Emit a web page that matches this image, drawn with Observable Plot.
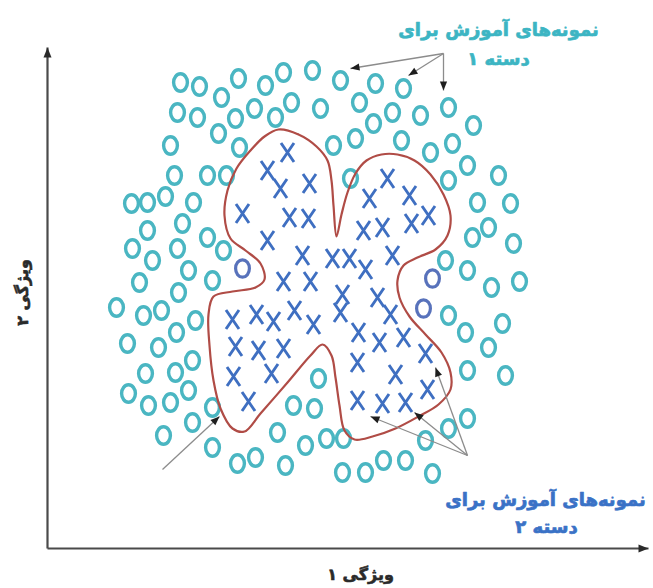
<!DOCTYPE html>
<html>
<head>
<meta charset="utf-8">
<script src="https://cdn.jsdelivr.net/npm/d3@7"></script>
<script src="https://cdn.jsdelivr.net/npm/@observablehq/plot@0.6"></script>
<style>
  html, body { margin: 0; padding: 0; background: #ffffff; }
  #chart svg { display: block; }
</style>
</head>
<body>
<div id="chart"></div>
<script>
// Feature coordinates (feature1 = horizontal, feature2 = vertical, top-down units)
const class1 = [
  [180,82],[199,86],[221,97],[238,78],[265,85],[283,72],[312,70],[177,112],[197,117],[218,133],
  [235,118],[254,108],[275,117],[291,102],[320,108],[170,145],[239,147],[174,175],[207,175],[226,175],
  [131,203],[147,202],[165,196],[193,202],[147,230],[182,223],[207,237],[132,248],[152,260],[177,248],
  [223,250],[188,270],[212,280],[139,282],[116,307],[143,315],[161,310],[178,292],[195,320],[176,332],
  [127,343],[158,347],[192,360],[145,373],[175,372],[128,393],[148,405],[170,402],[188,390],[212,407],
  [163,435],[192,422],[212,447],[237,463],[255,457],[285,465],[277,432],[293,405],[314,408],[318,378],
  [305,445],[326,438],[343,438],[342,472],[365,472],[383,460],[405,460],[432,473],[425,440],[448,428],
  [467,418],[467,370],[505,375],[488,347],[502,323],[465,332],[448,315],[491,287],[519,281],[467,270],
  [340,80],[375,83],[403,88],[359,102],[392,112],[373,123],[420,115],[448,107],[473,125],[333,145],
  [355,138],[401,140],[430,152],[452,143],[467,165],[350,178],[448,180],[498,175],[477,202],[510,203],
  [488,227],[472,237],[513,243],[445,260]
];
const class1Dark = [[242,268],[432,278],[423,308]];
const class2 = [
  [287,152],[267,170],[280,188],[309,183],[242,213],[289,217],[308,218],[267,240],[302,255],[283,281],
  [310,281],[387,178],[369,198],[409,195],[428,215],[411,223],[363,230],[382,227],[392,255],[332,258],
  [349,258],[365,269],[232,319],[256,314],[273,321],[294,310],[313,324],[235,346],[258,350],[283,348],
  [233,376],[271,373],[248,401],[342,294],[340,312],[377,297],[390,314],[358,332],[379,342],[403,337],
  [357,362],[395,374],[425,353],[427,389],[357,400],[382,403],[405,402]
];
const boundary = [
  [278,129],[298,134],[316,146],[327,160],[331,180],[333,205],[336,236],[341,214],[347,192],[355,173],
  [366,160],[381,154],[397,154],[414,160],[430,174],[443,194],[450,215],[447,235],[435,249],[417,257],
  [403,265],[397,280],[399,297],[409,316],[425,334],[441,352],[450,372],[450,389],[438,404],[418,416],
  [395,428],[372,436],[354,439],[344,430],[339,405],[335,377],[331,355],[322,344],[310,355],[287,382],
  [260,413],[244,431],[232,428],[220,408],[213,380],[209,345],[208,314],[213,296],[232,291],[255,287],
  [264,279],[260,263],[245,250],[230,238],[224,215],[227,190],[236,168],[250,150],[264,136]
];
const arrowOrigins = [[443,53],[443,53],[443,53],[467,455],[467,455],[467,455],[162,469]];
const arrowTips = [[350,68],[408,75],[443,90],[370,416],[414,412],[435,367],[219,416]];
const axisOrigin = [47,548];
const axisEnds = [[47,47],[648,548]];
const labelTop = ["نمونه‌های آموزش برای", "دسته ۱"];
const labelBottom = ["نمونه‌های آموزش برای", "دسته ۲"];
const axisLabelX = "ویژگی ۱";
const axisLabelY = "ویژگی ۲";

// symbols
const K = 0.5523;
const ellipseSym = {draw(ctx, size) {
  const k = Math.sqrt(size / Math.PI) / 10, rx = 6.9 * k, ry = 8.7 * k;
  ctx.moveTo(rx, 0);
  ctx.bezierCurveTo(rx, ry * K, rx * K, ry, 0, ry);
  ctx.bezierCurveTo(-rx * K, ry, -rx, ry * K, -rx, 0);
  ctx.bezierCurveTo(-rx, -ry * K, -rx * K, -ry, 0, -ry);
  ctx.bezierCurveTo(rx * K, -ry, rx, -ry * K, rx, 0);
  ctx.closePath();
}};
const crossSym = {draw(ctx, size) {
  const k = Math.sqrt(size / Math.PI) / 10, w = 6.5 * k, h = 9.5 * k;
  ctx.moveTo(-w, -h); ctx.lineTo(w, h);
  ctx.moveTo(w, -h); ctx.lineTo(-w, h);
}};
const headSym = {draw(ctx, size) {
  const k = Math.sqrt(size / Math.PI) / 10;
  ctx.moveTo(0, 0); ctx.lineTo(-4 * k, 10 * k); ctx.lineTo(4 * k, 10 * k); ctx.closePath();
}};

const pts = a => a.map(([x, y]) => ({x, y}));
const arrows = arrowOrigins.map((o, i) => ({x1: o[0], y1: o[1], x2: arrowTips[i][0], y2: arrowTips[i][1]}));
const heads = arrows.map(d => ({x: d.x2, y: d.y2, a: Math.atan2(d.x2 - d.x1, -(d.y2 - d.y1)) * 180 / Math.PI}));
const axes = axisEnds.map(e => ({x1: axisOrigin[0], y1: axisOrigin[1], x2: e[0], y2: e[1]}));
const axisHeads = axes.map(d => ({x: d.x2, y: d.y2, a: Math.atan2(d.x2 - d.x1, -(d.y2 - d.y1)) * 180 / Math.PI}));

const font = "DejaVu Sans";
const chart = Plot.plot({
  width: 653, height: 588,
  margin: 0,
  x: {domain: [0, 653], range: [0, 653], axis: null},
  y: {domain: [0, 588], range: [0, 588], axis: null},
  style: {background: "#ffffff"},
  marks: [
    Plot.link(axes, {x1: "x1", y1: "y1", x2: "x2", y2: "y2", stroke: "#4a4a4a", strokeWidth: 2.2}),
    Plot.dot(axisHeads, {x: "x", y: "y", rotate: "a", r: 10, symbol: headSym, fill: "#2a2a2a", stroke: "none"}),
    Plot.dot(pts(class1), {x: "x", y: "y", r: 10, symbol: ellipseSym, fill: "none", stroke: "#4ab6c2", strokeWidth: 3.4}),
    Plot.dot(pts(class1Dark), {x: "x", y: "y", r: 10, symbol: ellipseSym, fill: "none", stroke: "#5872bb", strokeWidth: 3.2}),
    Plot.line(pts(boundary), {x: "x", y: "y", curve: "catmull-rom-closed", stroke: "#b04c46", strokeWidth: 2.2}),
    Plot.dot(pts(class2), {x: "x", y: "y", r: 10, symbol: crossSym, fill: "none", stroke: "#3f6fc1", strokeWidth: 2.9}),
    Plot.link(arrows, {x1: "x1", y1: "y1", x2: "x2", y2: "y2", stroke: "#8c8c8c", strokeWidth: 1.3}),
    Plot.dot(heads, {x: "x", y: "y", rotate: "a", r: 9, symbol: headSym, fill: "#1e1e1e", stroke: "none"}),
    Plot.text(labelTop, {x: [498, 498], y: [30, 59], text: d => d, fontFamily: font, fontWeight: "bold", fontSize: 18, fill: "#3cb5c3", stroke: "#3cb5c3", strokeWidth: 0.7}),
    Plot.text(labelBottom, {x: [545, 546], y: [500, 527], text: d => d, fontFamily: font, fontWeight: "bold", fontSize: 18, fill: "#3a72c6", stroke: "#3a72c6", strokeWidth: 0.7}),
    Plot.text([axisLabelX], {x: [360], y: [574], text: d => d, fontFamily: font, fontWeight: "bold", fontSize: 16, fill: "#2a2a2a", stroke: "#2a2a2a", strokeWidth: 0.6}),
    Plot.text([axisLabelY], {x: [22], y: [292], rotate: -90, text: d => d, fontFamily: font, fontWeight: "bold", fontSize: 16, fill: "#2a2a2a", stroke: "#2a2a2a", strokeWidth: 0.6})
  ]
});
document.getElementById("chart").appendChild(chart);
</script>
</body>
</html>
